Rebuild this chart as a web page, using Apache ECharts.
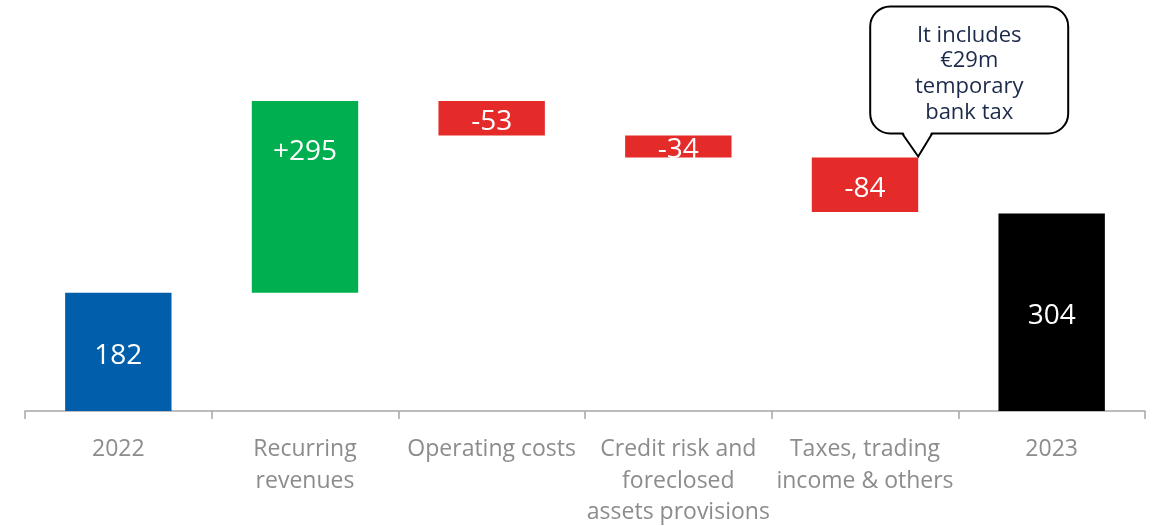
<!DOCTYPE html>
<html><head><meta charset="utf-8">
<script src="https://cdn.jsdelivr.net/npm/echarts@6/dist/echarts.min.js"></script>
<style>html,body{margin:0;padding:0;background:#fff}#c{width:1152px;height:526px}</style>
</head><body><div id="c"></div>
<script>
const categories = ['2022','Recurring\nrevenues','Operating costs','Credit risk and\nforeclosed\nassets provisions','Taxes, trading\nincome & others','2023'];
const deltas = [182, 295, -53, -34, -84, 304];
const kinds = ['total','delta','delta','delta','delta','total'];
const valueLabels = ['182','+295','-53','-34','-84','304'];
const barColors = ['#005EAA','#00B050','#E52A2A','#E52A2A','#E52A2A','#000000'];
const calloutLines = ['It includes','€29m','temporary','bank tax'];
const calloutIndex = 4;

const FONT = '"Open Sans", sans-serif';
let run = 0;
const baseData = [], sizeData = [], tops = [];
deltas.forEach((d,i)=>{
  if (kinds[i]==='total'){ baseData.push(0); sizeData.push(d); run = d; tops.push(d); }
  else if (d>=0){ baseData.push(run); sizeData.push(d); run += d; tops.push(run); }
  else { baseData.push(run+d); sizeData.push(-d); tops.push(run); run += d; }
});

const chart = echarts.init(document.getElementById('c'));
chart.setOption({
  animation:false,
  grid:{left:25,right:7,top:21,bottom:115,containLabel:false,outerBoundsMode:'none'},
  xAxis:{type:'category',data:categories,
    axisLine:{lineStyle:{color:'#a6a6a6',width:1.5}},
    axisTick:{show:true,length:8,lineStyle:{color:'#a6a6a6',width:1.5}},
    axisLabel:{color:'#8c8c8c',fontFamily:FONT,fontSize:23,lineHeight:31.5,margin:23,interval:0}},
  yAxis:{type:'value',min:0,max:600,show:false,splitLine:{show:false}},
  series:[
    {type:'bar',stack:'w',data:baseData,itemStyle:{color:'transparent'},barWidth:'57%',silent:true},
    {type:'bar',stack:'w',barWidth:'57%',
      data:sizeData.map((v,i)=>({value:v,itemStyle:{color:barColors[i]},
        label:i===1?{position:'insideTop',distance:37}:{position:'inside',offset:[0,4]}})),
      label:{show:true,color:'#fff',fontFamily:FONT,fontSize:28,
        formatter:p=>valueLabels[p.dataIndex]}}
  ]
});

function drawCallout(){
  const c = chart.convertToPixel({xAxisIndex:0,yAxisIndex:0},[calloutIndex, tops[calloutIndex]]);
  const band = chart.getModel().getComponent('xAxis',0).axis.getBandWidth();
  const tipX = c[0] + band*0.57/2, tipY = c[1]-1;
  const L = tipX-48, R = tipX+150, T = tipY-150, B = tipY-23;
  const bl = tipX-16, br = tipX+14;
  chart.setOption({graphic:[
    {type:'rect',shape:{x:L,y:T,width:R-L,height:B-T,r:20},style:{fill:'#fff',stroke:'#000',lineWidth:2},z:100},
    {type:'polygon',shape:{points:[[bl,B-3],[br,B-3],[tipX,tipY]]},style:{fill:'#fff'},z:101},
    {type:'polyline',shape:{points:[[bl,B],[tipX,tipY],[br,B]]},style:{stroke:'#000',lineWidth:2,fill:null},z:102},
    {type:'text',x:(L+R)/2,y:T+16,style:{text:calloutLines.join('\n'),fill:'#1B2A4A',font:'22px '+FONT,lineHeight:25.7,align:'center',verticalAlign:'top'},z:103}
  ]});
}
drawCallout();
</script></body></html>
